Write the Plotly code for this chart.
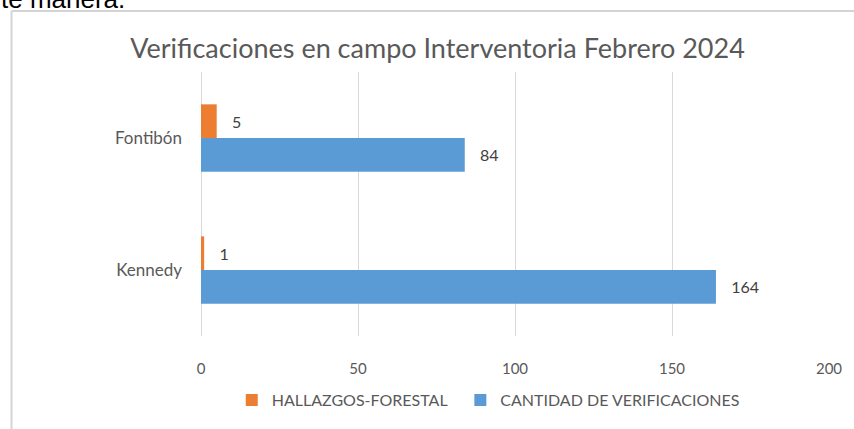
"""Verificaciones en campo Interventoria Febrero 2024"""
import plotly.graph_objects as go

localidades = ["Kennedy", "Fontibón"]
verificaciones = [164, 84]
hallazgos = [1, 5]
ticks_x = [0, 50, 100, 150, 200]

GRIS = "#595959"
AZUL = "#5b9bd5"
NARANJA = "#ed7d31"

# zone du graphique en pixels : gauche 201, droite 834, haut 72, bas 340
def px_x(p):
    return (p - 201) / 633

def px_y(p):
    return (340 - p) / 268

fig = go.Figure()
fig.add_trace(go.Bar(
    y=localidades, x=verificaciones, orientation="h",
    name="CANTIDAD DE VERIFICACIONES", marker_color=AZUL,
    marker_line_width=0, legendrank=2,
    text=verificaciones, texttemplate="   %{x}", textposition="outside",
    textfont=dict(color="#404040", size=16), cliponaxis=False,
))
fig.add_trace(go.Bar(
    y=localidades, x=hallazgos, orientation="h",
    name="HALLAZGOS-FORESTAL\u00a0\u00a0", marker_color=NARANJA,
    marker_line_width=0, legendrank=1,
    text=hallazgos, texttemplate="   %{x}", textposition="outside",
    textfont=dict(color="#404040", size=16), cliponaxis=False,
))

fig.update_layout(
    width=854, height=429,
    margin=dict(l=201, r=20, t=72, b=89),
    paper_bgcolor="white", plot_bgcolor="white",
    font=dict(family="Lato", color=GRIS, size=15),
    barmode="group", bargap=0.49, bargroupgap=0,
    title=dict(text="Verificaciones en campo Interventoria Febrero 2024",
               x=437.5 / 854, xanchor="center", y=1 - 49 / 429, yanchor="middle",
               font=dict(size=27, color=GRIS)),
    xaxis=dict(range=[0, 200], tickvals=ticks_x, showgrid=True,
               gridcolor="#d9d9d9", gridwidth=1, zeroline=True,
               zerolinecolor="#d9d9d9", zerolinewidth=1, showline=False,
               ticks="", ticklabelstandoff=22, tickfont=dict(size=15, color=GRIS)),
    yaxis=dict(showgrid=False, showline=False, ticks="",
               ticklabelstandoff=18, tickfont=dict(size=17, color=GRIS)),
    legend=dict(orientation="h", x=px_x(232), xanchor="left",
                y=px_y(405), yanchor="middle", itemwidth=30,
                font=dict(size=16, color=GRIS), traceorder="normal"),
    shapes=[
        dict(type="line", xref="paper", yref="paper",
             x0=px_x(10), x1=px_x(860), y0=px_y(10), y1=px_y(10),
             line=dict(color="#d4d4d4", width=2)),
        dict(type="line", xref="paper", yref="paper",
             x0=px_x(10), x1=px_x(10), y0=px_y(10), y1=px_y(440),
             line=dict(color="#d4d4d4", width=2)),
    ],
    annotations=[
        dict(text="te manera.", xref="paper", yref="paper",
             x=px_x(-3), y=px_y(15), xanchor="left", yanchor="bottom",
             showarrow=False,
             font=dict(family="Liberation Sans", size=26, color="black")),
    ],
)

fig.write_html("out.html", config={"displayModeBar": False},
               post_script="document.body.style.margin='0';")
